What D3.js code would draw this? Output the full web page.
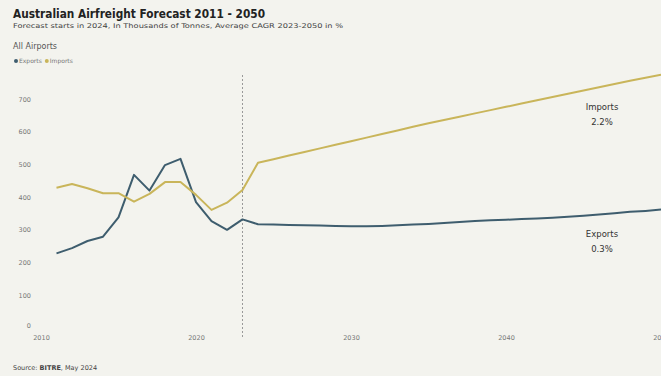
<!DOCTYPE html>
<html>
<head>
<meta charset="utf-8">
<script src="https://cdn.jsdelivr.net/npm/d3@7"></script>
<style>
  html, body { margin: 0; padding: 0; background: #f3f3ee; }
  svg { display: block; }
  text { font-family: "DejaVu Sans", Verdana, sans-serif; }
</style>
</head>
<body>
<svg id="chart" width="661" height="376"></svg>
<script>
// ---- Data (thousands of tonnes) ----
const years = d3.range(2011, 2051);
const exportsValues = [
  228, 244, 266, 279, 338, 468, 420, 498, 517, 385,
  327, 300, 332, 317, 316, 315, 314, 313, 312, 311,
  311, 312, 314, 316, 318, 321, 324, 327, 329, 331,
  333, 335, 337, 340, 343, 347, 351, 355, 358, 362
];
const importsValues = [
  429, 440, 427, 412, 412, 386, 410, 446, 446, 407,
  361, 383, 422, 505, 516, 527, 538, 549, 560, 571,
  582, 593, 604, 615, 626, 636, 646, 656, 666, 676,
  686, 696, 706, 716, 726, 736, 746, 756, 765, 774
];
const yTicks = [0, 100, 200, 300, 400, 500, 600, 700];
const xTicks = [2010, 2020, 2030, 2040, 2050];
const forecastYear = 2023;
const seriesNames = ["Exports", "Imports"];
const seriesCagr = ["0.3%", "2.2%"];
const seriesColors = ["#3e5d6e", "#c9b55a"];

const svg = d3.select("#chart");
const W = 661, H = 376;

const x = d3.scaleLinear().domain([2010, 2050]).range([41, 661]);
const y = d3.scaleLinear().domain([0, 700]).range([328, 99]);

// Titles
svg.append("text").attr("x", 13).attr("y", 18)
  .attr("font-size", 12.5).attr("font-weight", "bold").attr("fill", "#222")
  .attr("textLength", 252).attr("lengthAdjust", "spacingAndGlyphs")
  .text("Australian Airfreight Forecast 2011 - 2050");
svg.append("text").attr("x", 13).attr("y", 28)
  .attr("font-size", 6.5).attr("fill", "#444")
  .attr("textLength", 330).attr("lengthAdjust", "spacingAndGlyphs")
  .text("Forecast starts in 2024, In Thousands of Tonnes, Average CAGR 2023-2050 in %");
svg.append("text").attr("x", 13).attr("y", 49)
  .attr("font-size", 8).attr("fill", "#555")
  .text("All Airports");

// Legend
const legend = svg.append("g").attr("transform", "translate(13,63)");
let lx = 0;
seriesNames.forEach((n, i) => {
  legend.append("circle").attr("cx", lx + 3).attr("cy", -2).attr("r", 2).attr("fill", seriesColors[i]);
  const t = legend.append("text").attr("x", lx + 6).attr("y", 0.3)
    .attr("font-size", 6).attr("fill", "#777").text(n);
  lx += 6 + t.node().getComputedTextLength() + 2;
});

// Y axis labels (no line)
const yAxis = d3.axisLeft(y).tickValues(yTicks).tickSize(0).tickPadding(0);
const yg = svg.append("g").attr("transform", "translate(31,0)").call(yAxis);
yg.select(".domain").remove();
yg.selectAll("text").attr("font-size", 6.5).attr("fill", "#777")
  .attr("font-family", "DejaVu Sans, sans-serif")
  .attr("dy", d => d === 0 ? "-0.1em" : "0.32em");

// X axis labels
const xAxis = d3.axisBottom(x).tickValues(xTicks).tickFormat(d3.format("d")).tickSize(0).tickPadding(0);
const xg = svg.append("g").attr("transform", "translate(0,335)").call(xAxis);
xg.select(".domain").remove();
xg.selectAll("text").attr("font-size", 6.5).attr("fill", "#777")
  .attr("font-family", "DejaVu Sans, sans-serif");

// Forecast divider
svg.append("line")
  .attr("x1", x(forecastYear)).attr("x2", x(forecastYear))
  .attr("y1", 75).attr("y2", 337)
  .attr("stroke", "#999").attr("stroke-width", 1).attr("stroke-dasharray", "2,2");

// Lines
const line = d3.line().x(d => x(d[0])).y(d => y(d[1]));
[exportsValues, importsValues].forEach((vals, i) => {
  svg.append("path")
    .datum(years.map((yr, j) => [yr, vals[j]]))
    .attr("fill", "none")
    .attr("stroke", seriesColors[i])
    .attr("stroke-width", 2)
    .attr("stroke-linejoin", "round")
    .attr("d", line);
});

// End labels
const endLabels = [
  { name: seriesNames[1], cagr: seriesCagr[1], yPos: 107 },
  { name: seriesNames[0], cagr: seriesCagr[0], yPos: 234 }
];
endLabels.forEach(l => {
  const t = svg.append("text").attr("x", 602).attr("y", l.yPos)
    .attr("text-anchor", "middle").attr("font-size", 8.5).attr("fill", "#333");
  t.append("tspan").attr("x", 602).attr("dy", "0.35em").text(l.name);
  t.append("tspan").attr("x", 602).attr("dy", "1.8em").text(l.cagr);
});

// Source
const src = svg.append("text").attr("x", 13).attr("y", 370)
  .attr("font-size", 6.5).attr("fill", "#444");
src.append("tspan").text("Source: ");
src.append("tspan").attr("font-weight", "bold").text("BITRE");
src.append("tspan").text(", May 2024");
</script>
</body>
</html>
